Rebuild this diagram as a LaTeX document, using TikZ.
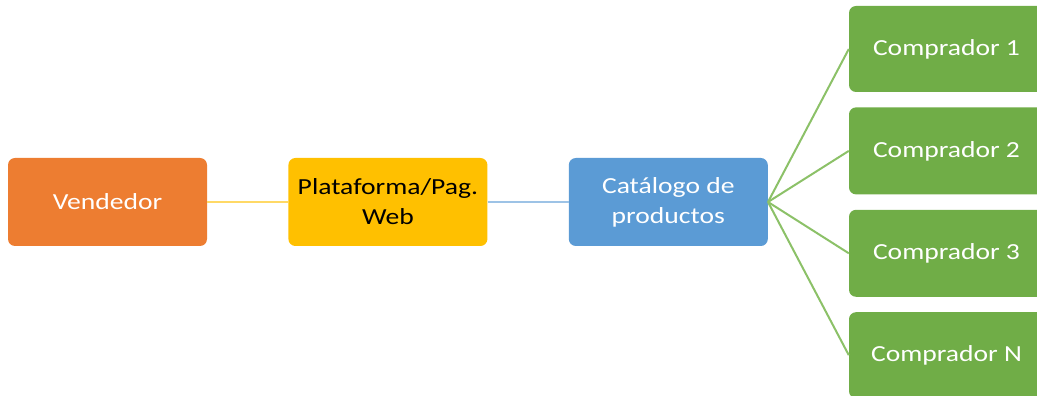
\documentclass[tikz,border=0pt]{standalone}
\usepackage{fontspec}
\newfontfamily\boxfont[FakeStretch=1.2]{Carlito}
\definecolor{vend}{HTML}{ED7D31}
\definecolor{plat}{HTML}{FFC000}
\definecolor{cat}{HTML}{5B9BD5}
\definecolor{comp}{HTML}{70AD47}
\definecolor{vendline}{HTML}{FFD966}
\definecolor{catline}{HTML}{9DC3E6}
\definecolor{compline}{HTML}{8CC168}
\usetikzlibrary{positioning}
\tikzstyle{base}=[x=1pt, y=1pt]
\tikzstyle{box}=[rectangle, rounded corners=7pt, minimum width=199pt, minimum height=88pt,
    align=center, inner sep=0pt, font=\boxfont\fontsize{23}{30}\selectfont, text=white]
\tikzstyle{link}=[line width=2pt]
\begin{document}
\begin{tikzpicture}[base]
    \useasboundingbox (0,0) rectangle (1037,396);
    \clip (0,0) rectangle (1037,396);
    % chain along the middle
    \node [box, fill=vend] (vendedor) at (107.5,194) {Vendedor};
    \node [box, fill=plat, text=black, right=81pt of vendedor] (plataforma) {Plataforma/Pag.\\Web};
    \node [box, fill=cat, right=81pt of plataforma] (catalogo) {Catálogo de\\productos};
    % buyers on the right
    \node [box, fill=comp, minimum height=86pt, minimum width=200pt] (comp1) at (949,347) {\hspace*{-5pt}Comprador 1};
    \node [box, fill=comp, minimum height=87pt, minimum width=200pt, below=15pt of comp1] (comp2) {\hspace*{-5pt}Comprador 2};
    \node [box, fill=comp, minimum height=87pt, minimum width=200pt, below=15pt of comp2] (comp3) {\hspace*{-5pt}Comprador 3};
    \node [box, fill=comp, minimum height=86pt, minimum width=200pt, below=15pt of comp3] (compN) {\hspace*{-5pt}Comprador N};
    % connectors
    \draw [link, vendline] (vendedor) -- (plataforma);
    \draw [link, catline] (plataforma) -- (catalogo);
    \foreach \c in {comp1,comp2,comp3,compN}
        \draw [link, compline] (catalogo.east) -- (\c.west);
\end{tikzpicture}
\end{document}
